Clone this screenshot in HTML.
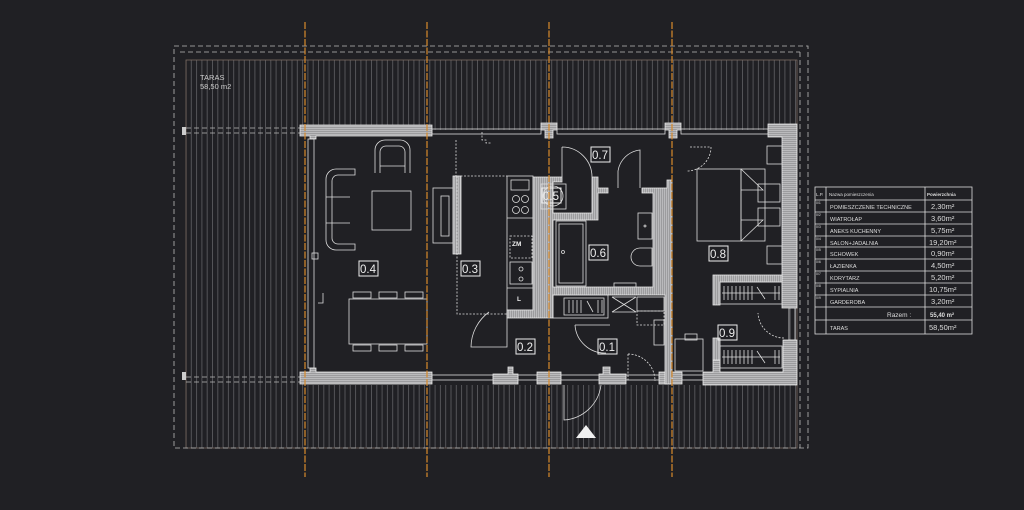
<!DOCTYPE html>
<html><head><meta charset="utf-8"><style>
html,body{margin:0;padding:0;background:#202024;}
svg{display:block}
text{font-family:"Liberation Sans",sans-serif;}
</style></head><body>
<svg width="1024" height="510" viewBox="0 0 1024 510" xmlns="http://www.w3.org/2000/svg">
<defs>
<pattern id="str" width="5.3" height="10" patternUnits="userSpaceOnUse">
<rect width="5.3" height="10" fill="#202024"/>
<line x1="0.5" y1="0" x2="0.5" y2="10" stroke="#6a6a6e" stroke-width="0.7"/>
</pattern>
<pattern id="hat" width="2" height="2" patternUnits="userSpaceOnUse">
<rect width="2" height="2" fill="#9c9c9e"/>
<line x1="0" y1="0.5" x2="2" y2="0.5" stroke="#c8c8ca" stroke-width="0.7"/>
</pattern>
<pattern id="hatv" width="2" height="2" patternUnits="userSpaceOnUse">
<rect width="2" height="2" fill="#9c9c9e"/>
<line x1="0.5" y1="0" x2="0.5" y2="2" stroke="#c8c8ca" stroke-width="0.7"/>
</pattern>
</defs>
<rect width="1024" height="510" fill="#202024"/>
<rect x="186" y="60" width="611" height="388" fill="url(#str)"/>
<rect x="186" y="60" width="611" height="388" fill="none" stroke="#7a6a60" stroke-width="0.8"/>
<g fill="none" stroke="#bbb" stroke-width="0.8" stroke-dasharray="5,3">
<rect x="174" y="46" width="634" height="402"/>
<line x1="180" y1="52" x2="800" y2="52"/>
<line x1="800" y1="52" x2="800" y2="448"/>
<line x1="186" y1="128" x2="300" y2="128"/><line x1="186" y1="133" x2="300" y2="133"/>
<line x1="186" y1="377" x2="300" y2="377"/><line x1="186" y1="382" x2="300" y2="382"/>
</g>
<rect x="182" y="127" width="4" height="8" fill="#ccc"/>
<rect x="182" y="372" width="4" height="8" fill="#ccc"/>
<text x="200" y="80" font-size="7.5" fill="#ccc">TARAS</text>
<text x="200" y="89" font-size="7.5" fill="#ccc">58,50 m2</text>
<rect x="300" y="130" width="490" height="250" fill="#202024"/>
<rect x="303" y="380" width="490" height="5" fill="#202024"/>
<g fill="url(#hat)" stroke="#eee" stroke-width="0.8">
<path d="M300 125 H432 V136 H316 V139 H310 V136 H300 Z"/>
<path d="M300 372 H310 V368 H316 V372 H432 V384 H300 Z"/>
<path d="M541 123 H557 V130 H553 V138 H545 V130 H541 Z"/>
<path d="M665 123 H681 V130 H677 V138 H669 V130 H665 Z"/>
<path d="M768 124 H797 V308 H782 V137 H768 Z"/>
<path d="M783 340 H797 V385 H703 V372 H713 V360 H720 V372 H783 Z"/>
<path d="M493 384 V374 H508 V367 H513 V374 H518 V384 Z"/>
<path d="M537 384 V372 H561 V384 Z"/>
<path d="M599 384 V374 H603 V367 H610 V374 H626 V384 Z"/>
<path d="M659 384 V372 H682 V384 Z"/>
</g>
<g fill="none" stroke="#ddd" stroke-width="0.8">
<rect x="432" y="129" width="109" height="5"/><rect x="557" y="129" width="108" height="5"/><rect x="681" y="129" width="87" height="5"/>
<rect x="308" y="139" width="6" height="229"/>
<rect x="432" y="375" width="61" height="5"/><rect x="518" y="375" width="19" height="5"/><rect x="561" y="375" width="38" height="5"/><rect x="626" y="375" width="33" height="5"/><rect x="682" y="375" width="21" height="5"/>
<rect x="789" y="308" width="6" height="32"/>
</g>
<g fill="url(#hatv)" stroke="#eee" stroke-width="0.8">
<path d="M533 177 H562 V182 H553 V213 H592 V177 H598 V188 H608 V193 H598 V220 H553 V287 H653 V193 H642 V188 H667 V180 H672 V384 H665 V295 H553 V318 H507 V310 H533 Z"/>
<rect x="453" y="176" width="8" height="78"/>
<path d="M713 275 H782 V282 H720 V305 H713 Z"/>
<path d="M713 338 H720 V360 H713 Z"/>
</g>
<g fill="none" stroke="#ddd" stroke-width="0.8">
<rect x="553" y="295" width="55" height="23"/><rect x="564" y="298" width="40" height="17"/>
<path d="M569 300 v13 M573 300 v13 M577 300 v13 M581 300 v13 M598 300 v13 M602 300 v13 M587 301 l6 11"/>
<rect x="720" y="282" width="62" height="22"/>
<path d="M724 286 v14 M728 286 v14 M732 286 v14 M736 286 v14 M740 286 v14 M744 286 v14 M748 286 v14 M752 286 v14 M775 286 v14 M779 286 v14 M757 287 l8 12 M722 293 h58"/>
<rect x="720" y="346" width="62" height="22"/>
<path d="M724 350 v14 M728 350 v14 M732 350 v14 M736 350 v14 M740 350 v14 M744 350 v14 M748 350 v14 M752 350 v14 M775 350 v14 M779 350 v14 M757 351 l8 12 M722 357 h58"/>
<rect x="507" y="176" width="26" height="134"/>
<rect x="511" y="180" width="18" height="10"/>
<circle cx="516" cy="199" r="3.5"/><circle cx="525" cy="199" r="3.5"/><circle cx="516" cy="210" r="3.5"/><circle cx="525" cy="210" r="3.5"/>
<line x1="507" y1="218" x2="533" y2="218"/>
<rect x="510" y="236" width="22" height="22" stroke-dasharray="2,1.5"/>
<rect x="510" y="262" width="22" height="22"/><circle cx="521" cy="269" r="2"/><circle cx="521" cy="279" r="2"/>
<line x1="507" y1="288" x2="533" y2="288"/>
<path d="M457 176 H507 M457 176 V314 H507 M456 140 V176 M482 132 V140 H486 V143 H491" stroke-dasharray="2,1.5"/>
<rect x="433" y="188" width="20" height="55"/><rect x="441" y="196" width="8" height="40"/>
<path d="M375 173 V150 a10 10 0 0 1 10 -10 H400 a10 10 0 0 1 10 10 V173 M380 173 V152 a6 6 0 0 1 6 -6 H399 a6 6 0 0 1 6 6 V173 M380 166 H405"/>
<path d="M355 169 H336 a10 10 0 0 0 -10 10 V240 a10 10 0 0 0 10 10 H355 V244 H338 a6 6 0 0 1 -6 -6 V181 a6 6 0 0 1 6 -6 H355 Z M326 197 H350 M326 223 H350"/>
<rect x="372" y="191" width="39" height="39"/>
<rect x="349" y="299" width="78" height="45"/>
<rect x="353" y="292" width="18" height="6"/><rect x="379" y="292" width="18" height="6"/><rect x="405" y="292" width="18" height="6"/>
<rect x="353" y="345" width="18" height="6"/><rect x="379" y="345" width="18" height="6"/><rect x="405" y="345" width="18" height="6"/>
<rect x="312" y="253" width="6" height="6"/>
<path d="M318 303 h5 v-10"/>
<rect x="556" y="221" width="30" height="65"/><rect x="559" y="224" width="24" height="59"/>
<circle cx="563" cy="252" r="1.5"/>
<rect x="638" y="213" width="14" height="26"/><circle cx="645" cy="226" r="1"/>
<path d="M652 248 H640 a8 8 0 0 0 0 18 H652 Z"/>
<rect x="614" y="283" width="22" height="4"/>
<rect x="541" y="184" width="25" height="25"/><circle cx="553" cy="196" r="10"/>
<path d="M612 297 h24 M612 297 l24 15 M636 297 l-24 15 M612 312 h24"/>
<rect x="637" y="297" width="27" height="14"/><rect x="637" y="311" width="27" height="14" stroke-dasharray="2,1.5"/>
<rect x="654" y="320" width="10" height="25"/>
<rect x="697" y="169" width="44" height="72"/><rect x="741" y="169" width="24" height="72" />
<path d="M741 169 L763 190 L741 190 M741 241 L763 220 L741 220"/>
<rect x="767" y="146" width="15" height="18"/><rect x="758" y="184" width="22" height="18"/><rect x="758" y="208" width="22" height="18"/><rect x="767" y="246" width="15" height="18"/>
<rect x="675" y="339" width="28" height="32"/><rect x="685" y="334" width="12" height="6"/>
<path d="M489 312 A44 44 0 0 0 471 347 H507 V312"/>
<path d="M562 147 V177 M562 147 A30 30 0 0 1 592 177"/>
<path d="M618 188 V171 A25 25 0 0 1 640 150 V188 M640 150 V182"/>
<path d="M575 325 A30 30 0 0 0 606 353 M575 325 H610"/>
<path d="M628 354 V381 M628 354 A27 27 0 0 1 655 381" stroke-dasharray="2,1.5"/>
<path d="M690 147 H711 M711 147 A24 24 0 0 1 687 171" stroke-dasharray="2,1.5"/>
<path d="M564 385 V420 A40 40 0 0 0 601 385"/>
<path d="M784 338 A26 26 0 0 1 758 313" stroke-dasharray="2,1.5"/>
</g>
<g fill="#eee" font-size="6.5" font-weight="bold"><text x="512" y="246">ZM</text><text x="517" y="301">L</text></g>
<g font-size="11.5" fill="#eee">
<g fill="none" stroke="#eee" stroke-width="1">
<rect x="359" y="261" width="19" height="15"/><rect x="461" y="261" width="19" height="15"/><rect x="516" y="339" width="19" height="15"/><rect x="598" y="339" width="19" height="15"/>
<rect x="591" y="147" width="19" height="15"/><rect x="589" y="245" width="19" height="15"/><rect x="709" y="246" width="19" height="15"/><rect x="718" y="325" width="19" height="15"/><rect x="542" y="188" width="19" height="15"/>
</g>
<text x="360" y="273">0.4</text><text x="462" y="273">0.3</text><text x="517" y="351">0.2</text><text x="599" y="351">0.1</text>
<text x="592" y="159">0.7</text><text x="590" y="257">0.6</text><text x="710" y="258">0.8</text><text x="719" y="337">0.9</text><text x="543" y="200">0.5</text>
</g>
<polygon points="576,438 596,438 586,425" fill="#f0f0f0"/>
<g stroke="#d98a2b" stroke-width="1.2" stroke-dasharray="7,1.5">
<line x1="305" y1="22" x2="305" y2="477"/><line x1="427" y1="22" x2="427" y2="477"/><line x1="549" y1="22" x2="549" y2="477"/><line x1="672" y1="22" x2="672" y2="477"/>
</g>
<g stroke="#ddd" stroke-width="0.8" fill="none">
<rect x="815" y="187" width="157" height="147"/>
<line x1="826" y1="187" x2="826" y2="334"/><line x1="925" y1="187" x2="925" y2="334"/>
<path d="M815 200 H972 M815 212 H972 M815 224 H972 M815 236 H972 M815 247 H972 M815 259 H972 M815 271 H972 M815 283 H972 M815 295 H972 M815 307 H972 M815 320 H972"/>
</g>
<g fill="#ddd" font-size="5.5">
<text x="816" y="196" font-family="Liberation Serif" font-size="4.5">L.P.</text>
<text x="829" y="196" font-family="Liberation Serif" font-size="4.5">Nazwa pomieszczenia</text>
<text x="927" y="196" font-family="Liberation Serif" font-size="4.5" font-weight="bold">Powierzchnia</text>
<g font-size="3.5"><text x="816" y="204">0/1</text><text x="816" y="216">0/2</text><text x="816" y="228">0/3</text><text x="816" y="240">0/4</text><text x="816" y="251">0/5</text><text x="816" y="263">0/6</text><text x="816" y="275">0/7</text><text x="816" y="287">0/8</text><text x="816" y="299">0/9</text></g>
<text x="830" y="209">POMIESZCZENIE  TECHNICZNE</text>
<text x="830" y="221">WIATROŁAP</text>
<text x="830" y="233">ANEKS  KUCHENNY</text>
<text x="830" y="245">SALON+JADALNIA</text>
<text x="830" y="256">SCHOWEK</text>
<text x="830" y="268">ŁAZIENKA</text>
<text x="830" y="280">KORYTARZ</text>
<text x="830" y="292">SYPIALNIA</text>
<text x="830" y="304">GARDEROBA</text>
<text x="887" y="317" font-size="6.5">Razem  :</text>
<text x="830" y="330">TARAS</text>
<g font-size="7.5"><text x="931" y="209">2,30m²</text><text x="931" y="221">3,60m²</text><text x="931" y="233">5,75m²</text><text x="929" y="245">19,20m²</text><text x="931" y="256">0,90m²</text><text x="931" y="268">4,50m²</text><text x="931" y="280">5,20m²</text><text x="929" y="292">10,75m²</text><text x="931" y="304">3,20m²</text><text x="929" y="330">58,50m²</text></g>
<text x="930" y="317" font-family="Liberation Serif" font-size="6" font-weight="bold">55,40 m²</text>
</g>
</svg>
</body></html>
